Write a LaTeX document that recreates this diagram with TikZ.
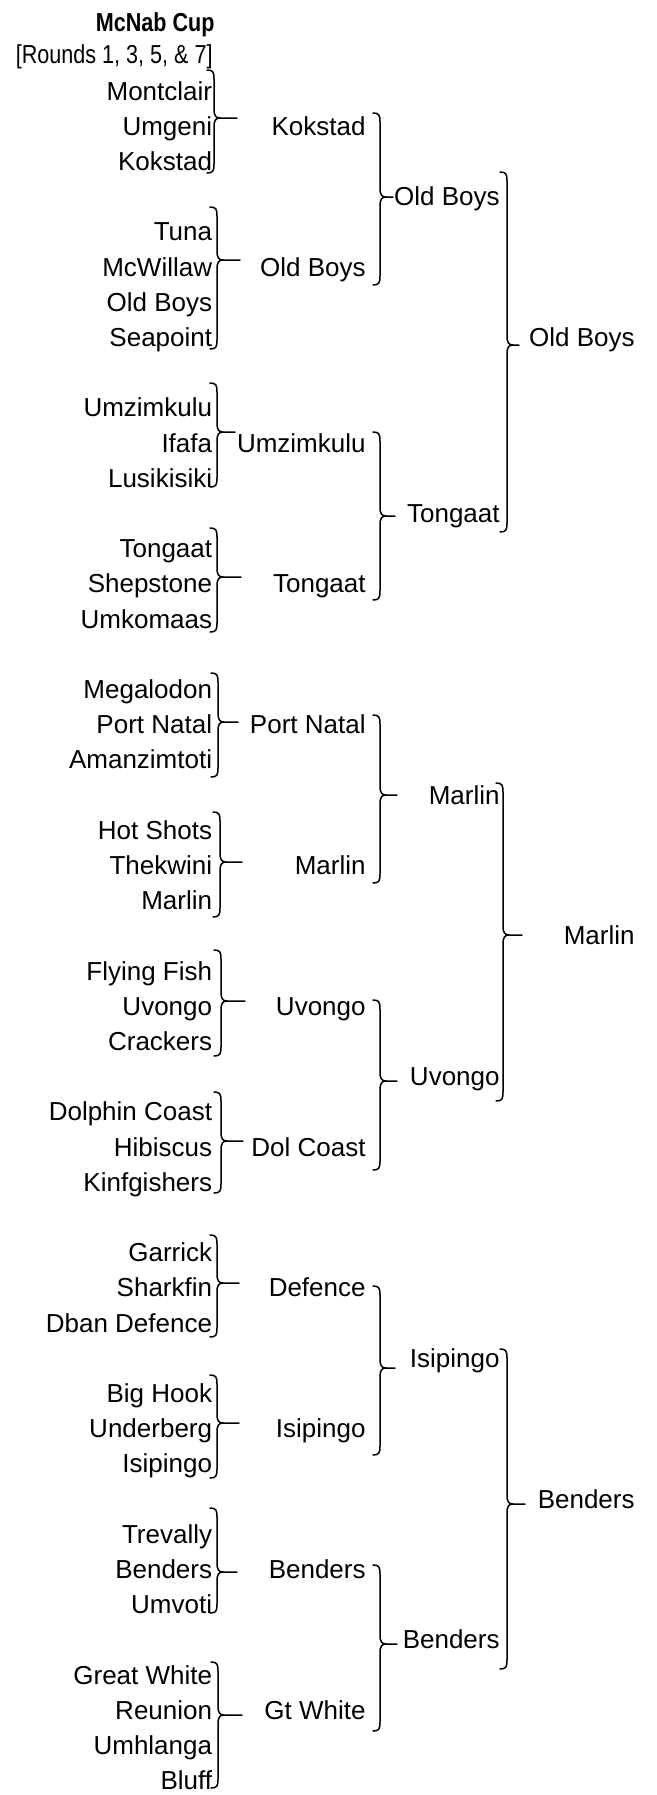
\documentclass[tikz,border=0pt]{standalone}
\usepackage{fontspec}
\setmainfont{Liberation Sans}
\newfontfamily\narrowfont[FakeStretch=0.83]{Liberation Sans}
\usepackage{tikz}

% right brace: spine x, top y, tip y, bottom y, end of the stub
\newcommand{\teambrace}[5]{%
  \draw[bracebar] (#1-7,#2) .. controls (#1-1,#2) and (#1,#2+2) .. (#1,#2+9)
    -- (#1,#3-9) .. controls (#1,#3-2) and (#1+2,#3) .. (#1+6,#3) -- (#5,#3);
  \draw[bracebar] (#1+6,#3) .. controls (#1+2,#3) and (#1,#3+2) .. (#1,#3+9)
    -- (#1,#4-9) .. controls (#1,#4-2) and (#1-1,#4) .. (#1-7,#4);}

\tikzset{
  teamname/.style={anchor=base east, inner sep=0pt, font=\fontsize{13}{15}\selectfont},
  cuptitle/.style={anchor=base east, inner sep=0pt, font=\fontsize{13}{15}\selectfont\narrowfont},
  bracebar/.style={line width=0.75pt, line cap=round, line join=round}
}

\begin{document}
\begin{tikzpicture}[x=0.5pt, y=-0.5pt]
	\useasboundingbox (0,0) rectangle (657,1795);

	\node[cuptitle, font=\fontsize{13}{15}\selectfont\narrowfont\bfseries] (cup) at (215,31) {McNab Cup};
	\node[cuptitle] (rounds) at (213,63) {[Rounds 1, 3, 5, \& 7]};

	% first round
	\foreach \r/\t in {1/Montclair, 2/Umgeni, 3/Kokstad,
		5/Tuna, 6/McWillaw, 7/Old Boys, 8/Seapoint,
		10/Umzimkulu, 11/Ifafa, 12/Lusikisiki,
		14/Tongaat, 15/Shepstone, 16/Umkomaas,
		18/Megalodon, 19/Port Natal, 20/Amanzimtoti,
		22/Hot Shots, 23/Thekwini, 24/Marlin,
		26/Flying Fish, 27/Uvongo, 28/Crackers,
		30/Dolphin Coast, 31/Hibiscus, 32/Kinfgishers,
		34/Garrick, 35/Sharkfin, 36/Dban Defence,
		38/Big Hook, 39/Underberg, 40/Isipingo,
		42/Trevally, 43/Benders, 44/Umvoti,
		46/Great White, 47/Reunion, 48/Umhlanga, 49/Bluff}
		\node[teamname] (first\r) at (212.5,{100+(\r-1)*35.2}) {\t};

	% second round
	\foreach \r/\t in {2/Kokstad, 6/Old Boys, 11/Umzimkulu, 15/Tongaat,
		19/Port Natal, 23/Marlin, 27/Uvongo, 31/Dol Coast,
		35/Defence, 39/Isipingo, 43/Benders, 47/Gt White}
		\node[teamname] (second\r) at (366,{100+(\r-1)*35.2}) {\t};

	% semi finals
	\foreach \r/\t in {4/Old Boys, 13/Tongaat, 21/Marlin, 29/Uvongo, 37/Isipingo, 45/Benders}
		\node[teamname] (semi\r) at (500,{100+(\r-1)*35.2}) {\t};

	% finals
	\foreach \r/\t in {8/Old Boys, 25/Marlin, 41/Benders}
		\node[teamname] (final\r) at (635,{100+(\r-1)*35.2}) {\t};

	% braces
	\foreach \sx/\ya/\ym/\yb/\ex in {214/70/118/173/237, 217/207/260/349/240,
		217/383/432/487/235, 217/528/577/632/241, 218/673/722/777/238,
		220/812/862/917/242, 221/950/1001/1056/245, 221/1092/1141/1193/243,
		217/1235/1283/1337/239, 217/1375/1423/1478/239, 217/1508/1572/1613/237,
		218/1662/1715/1788/242}
		\teambrace{\sx}{\ya}{\ym}{\yb}{\ex};
	\foreach \sx/\ya/\ym/\yb/\ex in {380/113/197/285/393, 380/432/516/600/395,
		380/715/795/883/397, 380/1000/1081/1170/397, 380/1286/1368/1455/395,
		380/1565/1644/1731/397}
		\teambrace{\sx}{\ya}{\ym}{\yb}{\ex};
	\foreach \sx/\ya/\ym/\yb/\ex in {507/172/345/532/519, 503/783/935/1101/522,
		507/1349/1504/1669/525}
		\teambrace{\sx}{\ya}{\ym}{\yb}{\ex};
\end{tikzpicture}
\end{document}
